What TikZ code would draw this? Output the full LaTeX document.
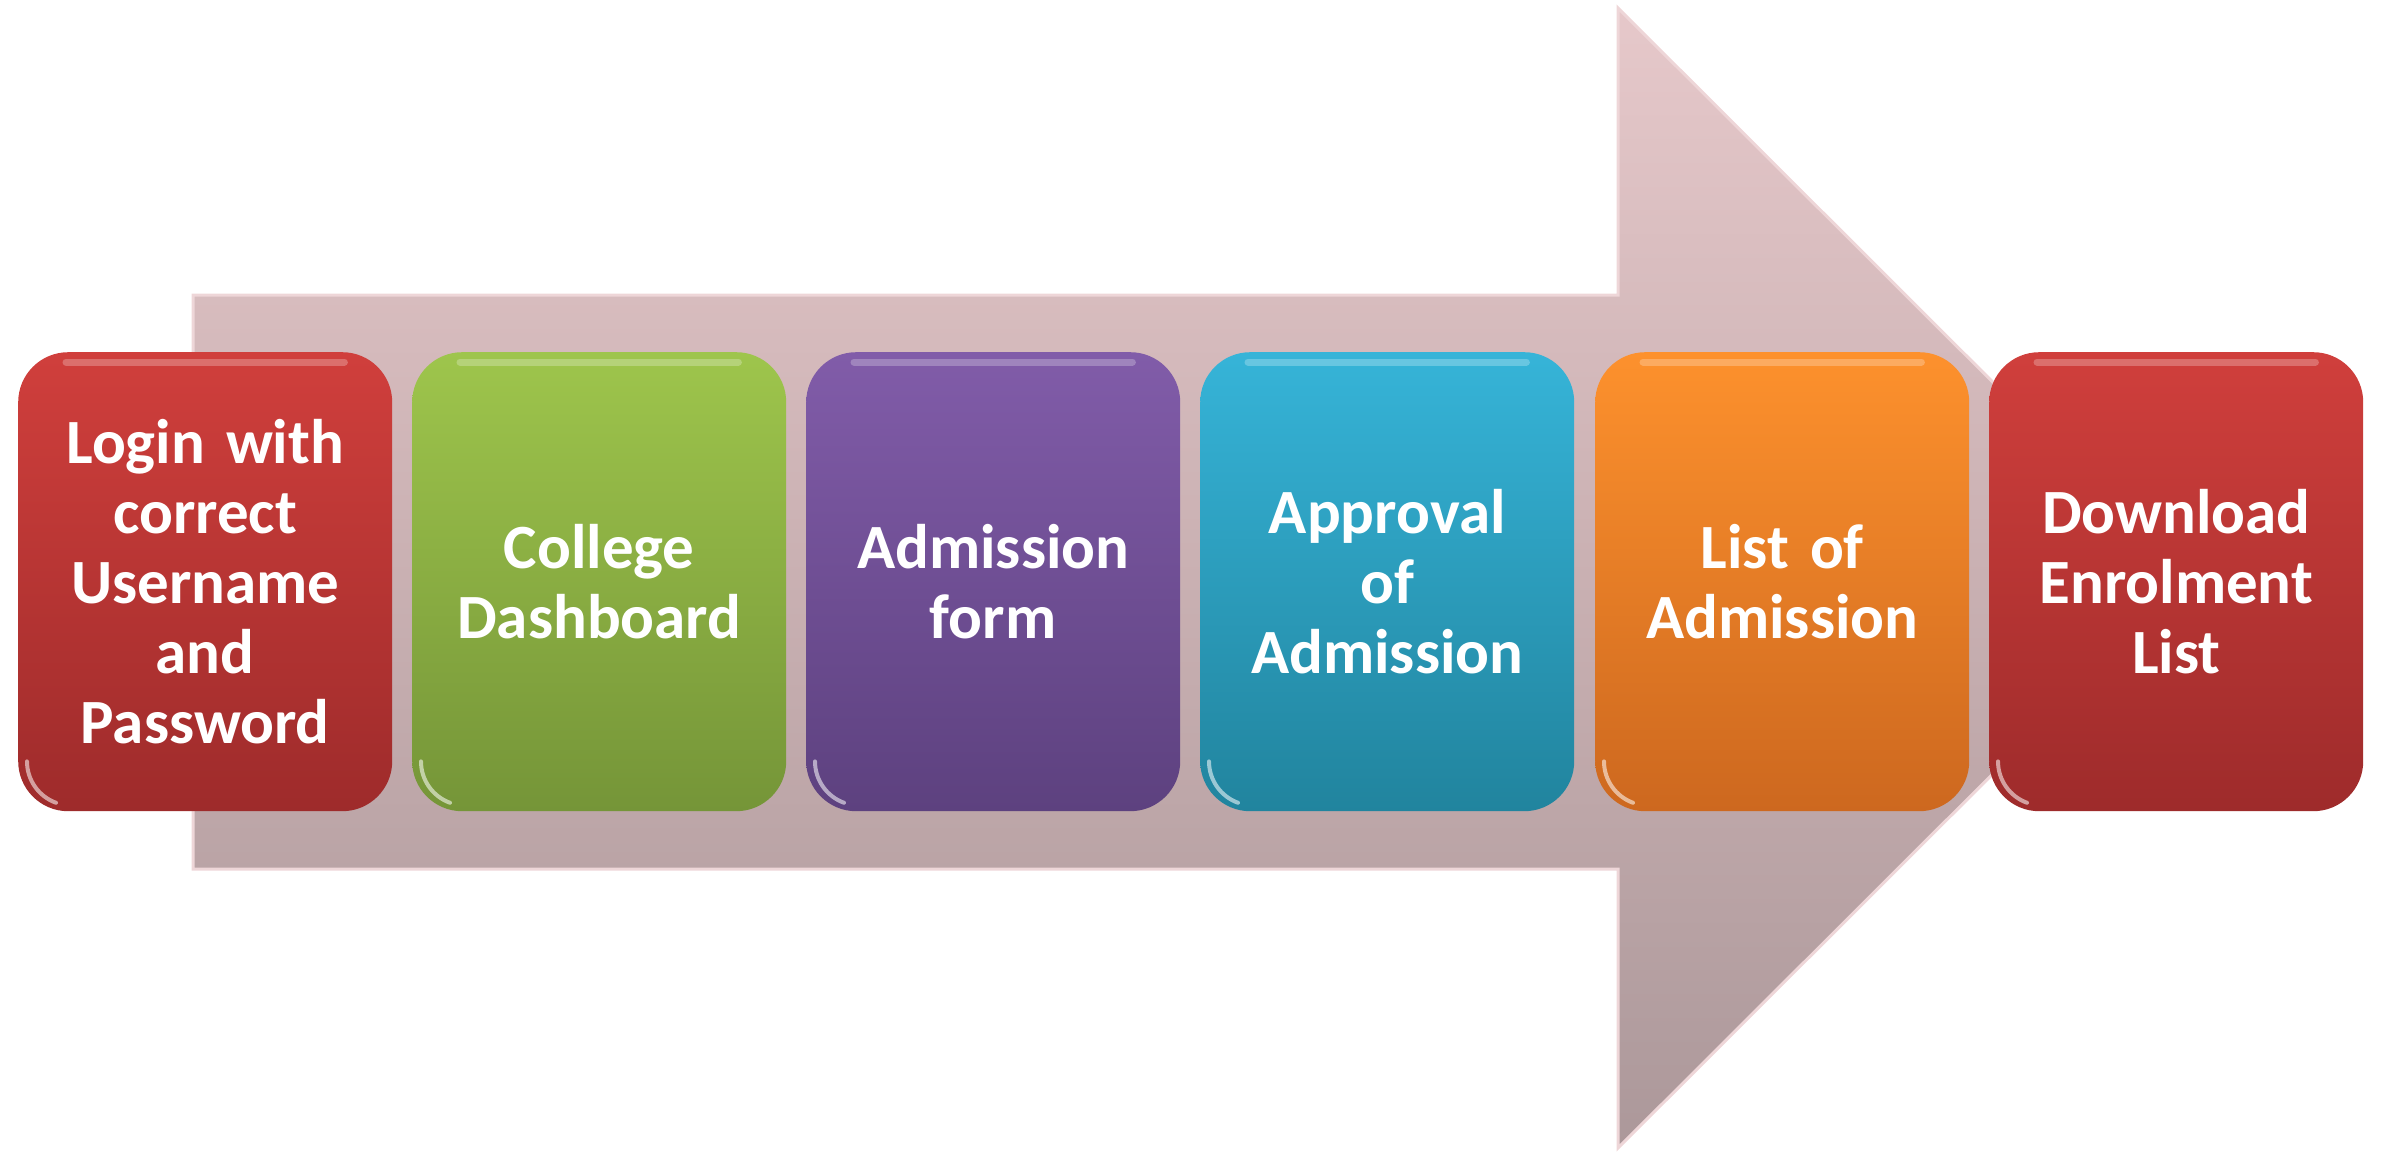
\documentclass[tikz,border=0pt]{standalone}
\usepackage{fontspec}
\setmainfont{Carlito}[WordSpace=0.8]
\usetikzlibrary{calc}
\definecolor{arrowtop}{RGB}{230,200,202}
\definecolor{arrowbot}{RGB}{172,152,154}
\definecolor{arrowedge}{RGB}{238,214,216}
\definecolor{redtop}{RGB}{208,63,60}
\definecolor{redbot}{RGB}{158,43,43}
\definecolor{greentop}{RGB}{158,197,76}
\definecolor{greenbot}{RGB}{117,149,56}
\definecolor{purpletop}{RGB}{129,92,169}
\definecolor{purplebot}{RGB}{93,65,127}
\definecolor{cyantop}{RGB}{54,180,216}
\definecolor{cyanbot}{RGB}{33,132,158}
\definecolor{orangetop}{RGB}{253,145,45}
\definecolor{orangebot}{RGB}{205,104,31}
\begin{document}
\begin{tikzpicture}[x=1pt,y=1pt,
  stepbox/.style={rounded corners=50pt, minimum width=374pt, minimum height=459pt,
    text width=350pt, align=center, inner sep=0pt, text=white,
    font=\bfseries\fontsize{63}{70}\selectfont, anchor=north west},
  bigarrow/.style={top color=arrowtop, bottom color=arrowbot, draw=arrowedge, line width=3pt}
]
\useasboundingbox (0,0) rectangle (2381,-1152);
\path[bigarrow] (193,-295) -- (1618,-295) -- (1618,-8) -- (2189,-578) -- (1618,-1148) -- (1618,-869) -- (193,-869) -- cycle;

\node[stepbox, top color=redtop, bottom color=redbot] (b1) at (18,-352) {Login with\\correct\\Username\\and\\Password};
\node[stepbox, top color=greentop, bottom color=greenbot] (b2) at (412,-352) {College\\Dashboard};
\node[stepbox, top color=purpletop, bottom color=purplebot] (b3) at (806,-352) {Admission\\form};
\node[stepbox, top color=cyantop, bottom color=cyanbot] (b4) at (1200,-352) {Approval\\of\\Admission};
\node[stepbox, top color=orangetop, bottom color=orangebot] (b5) at (1595,-352) {List of\\Admission};
\node[stepbox, top color=redtop, bottom color=redbot] (b6) at (1989,-352) {Download\\Enrolment\\List};

\foreach \n in {b1,b2,b3,b4,b5,b6} {
  \draw[white, opacity=.25, line width=7pt, line cap=round] ($(\n.north west)+(48,-10)$) -- ($(\n.north east)+(-48,-10)$);
  \draw[white, opacity=.55, line width=4pt, line cap=round] ($(\n.south west)+(9,50)$) arc[start angle=180, end angle=250, radius=44];
}
\end{tikzpicture}
\end{document}
